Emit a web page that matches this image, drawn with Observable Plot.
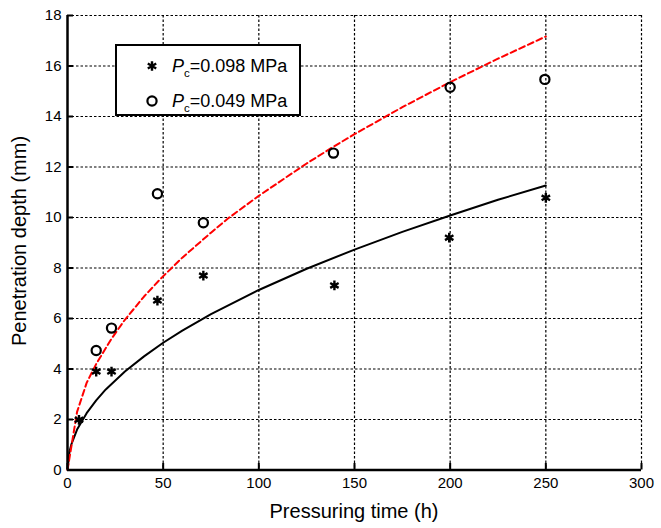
<!DOCTYPE html>
<html>
<head>
<meta charset="utf-8">
<script src="https://cdn.jsdelivr.net/npm/d3@7"></script>
<script src="https://cdn.jsdelivr.net/npm/@observablehq/plot@0.6"></script>
<style>
  html, body { margin: 0; padding: 0; background: #fff; }
  #fig { position: relative; width: 661px; height: 528px; font-family: "Liberation Sans", Arial, Helvetica, sans-serif; }
  #fig svg text { font-size: 15px !important; font-family: "Liberation Sans", Arial, Helvetica, sans-serif; fill: #000; }
  .xtitle { position: absolute; left: 67px; width: 574px; top: 501px; line-height: 20px; text-align: center; font-size: 20px; color: #000; white-space: nowrap; }
  .ytitle { position: absolute; left: 19px; top: 241px; line-height: 20px; transform: translate(-50%, -50%) rotate(-90deg); font-size: 20px; color: #000; white-space: nowrap; }
  .legend { position: absolute; left: 115px; top: 44px; width: 182px; height: 68px; border: 2.5px solid #000; background: #fff; }
  .legrow { position: absolute; left: 0; height: 22px; font-size: 18px; line-height: 20px; white-space: nowrap; }
  .legrow svg { position: absolute; left: 27px; top: 2px; }
  .legrow span.t { position: absolute; left: 55px; top: 0; }
  .legrow i { font-style: italic; }
  .legrow sub { font-size: 11.5px; vertical-align: -5px; line-height: 0; }
</style>
</head>
<body>
<div id="fig"></div>
<script>
// Pressuring time (h) and penetration depth (mm)
const timeStar = [6, 15, 23, 47, 71, 139.5, 199.5, 250];
const depthStar = [1.99, 3.9, 3.9, 6.71, 7.7, 7.31, 9.2, 10.78];
const timeCircle = [15, 23, 47, 71, 139, 200, 249.5];
const depthCircle = [4.73, 5.62, 10.94, 9.79, 12.55, 15.16, 15.47];

// fitted curves
const fitBlackT = [0, 1, 2, 5, 10, 15, 20, 30, 40, 50, 60, 75, 100, 125, 150, 175, 200, 225, 250];
const fitBlackD = [0, 0.71, 1.01, 1.6, 2.25, 2.76, 3.19, 3.9, 4.5, 5.04, 5.52, 6.17, 7.13, 7.97, 8.73, 9.43, 10.08, 10.7, 11.27];
const fitRedT = [0, 5, 10, 15, 23, 30, 40, 49, 60, 75, 84, 100, 125, 140, 150, 175, 200, 225, 250];
const fitRedD = [0, 2.3, 3.45, 4.2, 5.2, 5.95, 6.87, 7.6, 8.41, 9.4, 9.97, 10.86, 12.14, 12.85, 13.3, 14.37, 15.36, 16.29, 17.17];

const xTicks = [0, 50, 100, 150, 200, 250, 300];
const yTicks = [0, 2, 4, 6, 8, 10, 12, 14, 16, 18];

const legendLabels = ["0.098 MPa", "0.049 MPa"];

const stars = timeStar.map((t, i) => ({t, d: depthStar[i]}));
const circles = timeCircle.map((t, i) => ({t, d: depthCircle[i]}));
const black = fitBlackT.map((t, i) => ({t, d: fitBlackD[i]}));
const red = fitRedT.map((t, i) => ({t, d: fitRedD[i]}));

const chart = Plot.plot({
  width: 661,
  height: 528,
  marginLeft: 67,
  marginRight: 20,
  marginTop: 15,
  marginBottom: 58.5,
  style: {fontFamily: '"Liberation Sans", Arial, Helvetica, sans-serif', fontSize: "15px", color: "#000", background: "#fff"},
  x: {domain: [0, 300], ticks: xTicks},
  y: {domain: [0, 18], ticks: yTicks},
  marks: [
    Plot.gridX({ticks: xTicks.filter(v => v > 0), stroke: "#000", strokeOpacity: 1, strokeWidth: 1.2, strokeDasharray: "2.5,2"}),
    Plot.gridY({ticks: yTicks.filter(v => v > 0), stroke: "#000", strokeOpacity: 1, strokeWidth: 1.2, strokeDasharray: "2.5,2"}),
    Plot.tickX(xTicks, {x: d => d, stroke: "#000", strokeWidth: 2, insetTop: 448}),
    Plot.tickY(yTicks, {y: d => d, stroke: "#000", strokeWidth: 2, insetRight: 568}),
    Plot.axisX({ticks: xTicks, tickSize: 0, tickPadding: 7, label: null, fontSize: 15}),
    Plot.axisY({ticks: yTicks, tickSize: 0, tickPadding: 6, label: null, fontSize: 15}),
    Plot.line(black, {x: "t", y: "d", stroke: "#000", strokeWidth: 2}),
    Plot.line(red, {x: "t", y: "d", stroke: "#ff0000", strokeWidth: 2, strokeDasharray: "6,3.5"}),
    Plot.dot(stars, {x: "t", y: "d", symbol: "asterisk", r: 4.6, stroke: "#000", strokeWidth: 2.4}),
    Plot.dot(circles, {x: "t", y: "d", symbol: "circle", r: 4.6, stroke: "#000", strokeWidth: 2.2, fill: "none"}),
    Plot.ruleX([0], {stroke: "#000", strokeWidth: 2.5}),
    Plot.ruleY([0], {stroke: "#000", strokeWidth: 2.5})
  ]
});

const fig = document.getElementById("fig");
fig.appendChild(chart);

const xt = document.createElement("div");
xt.className = "xtitle";
xt.textContent = "Pressuring time (h)";
fig.appendChild(xt);

const yt = document.createElement("div");
yt.className = "ytitle";
yt.textContent = "Penetration depth (mm)";
fig.appendChild(yt);

const leg = document.createElement("div");
leg.className = "legend";
const asteriskPath = d3.symbol(d3.symbolAsterisk, Math.PI * 4.6 * 4.6)();
const rows = [
  {top: 10, sym: `<path d="${asteriskPath}" transform="translate(8,8)" stroke="#000" stroke-width="2.4" fill="none"/>`, label: legendLabels[0]},
  {top: 45, sym: `<circle cx="8" cy="8" r="4.6" stroke="#000" stroke-width="2.2" fill="none"/>`, label: legendLabels[1]}
];
for (const r of rows) {
  const row = document.createElement("div");
  row.className = "legrow";
  row.style.top = r.top + "px";
  row.innerHTML = `<svg width="16" height="16">${r.sym}</svg><span class="t"><i>P</i><sub>c</sub>=${r.label}</span>`;
  leg.appendChild(row);
}
fig.appendChild(leg);
</script>
</body>
</html>
